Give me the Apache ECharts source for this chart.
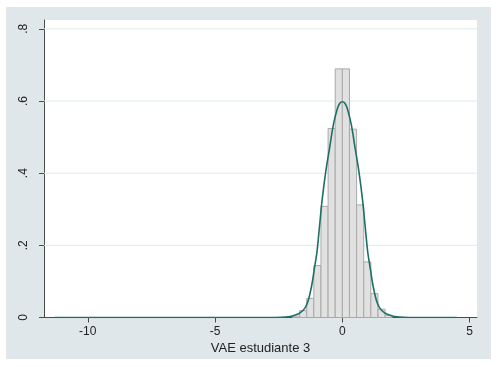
<!DOCTYPE html>
<html>
<head>
<meta charset="utf-8">
<script src="https://cdn.jsdelivr.net/npm/echarts@6/dist/echarts.min.js"></script>
<style>
html,body{margin:0;padding:0;background:#ffffff;}
#chart{width:500px;height:367px;}
</style>
</head>
<body>
<div id="chart"></div>
<script>
// Histogram bins (left edge, right edge) and densities
var binLeft  = [-1.96, -1.68, -1.40, -1.12, -0.84, -0.56, -0.28, 0.00, 0.28, 0.56, 0.84, 1.12, 1.40, 1.68];
var binRight = [-1.68, -1.40, -1.12, -0.84, -0.56, -0.28, 0.00, 0.28, 0.56, 0.84, 1.12, 1.40, 1.68, 1.96];
var density  = [0.004, 0.019, 0.053, 0.144, 0.308, 0.524, 0.689, 0.689, 0.522, 0.312, 0.154, 0.066, 0.023, 0.006];

// Normal density overlay
var curveX = [-11.3, -8, -5, -3, -2.4, -2.05, -1.85, -1.66, -1.47, -1.34, -1.2, -1.1, -1.0, -0.9, -0.8, -0.65, -0.5, -0.35, -0.2, -0.1, 0,
              0.1, 0.2, 0.35, 0.5, 0.65, 0.8, 0.9, 1.0, 1.1, 1.2, 1.34, 1.47, 1.66, 1.85, 2.05, 2.4, 3, 4.5];
var curveY = [0, 0, 0, 0, 0.0005, 0.003, 0.007, 0.013, 0.026, 0.047, 0.09, 0.135, 0.18, 0.25, 0.322, 0.405, 0.47, 0.535, 0.578, 0.594, 0.598,
              0.594, 0.578, 0.535, 0.47, 0.405, 0.322, 0.25, 0.18, 0.135, 0.09, 0.047, 0.026, 0.013, 0.007, 0.003, 0.0005, 0, 0];

var xTicks = [-10, -5, 0, 5];
var yTicks = [0, 0.2, 0.4, 0.6, 0.8];
var yTickLabels = ['0', '.2', '.4', '.6', '.8'];
var xTitle = 'VAE estudiante 3';

var histData = binLeft.map(function (l, i) { return [l, binRight[i], density[i]]; });
var curveData = curveX.map(function (x, i) { return [x, curveY[i]]; });

var chart = echarts.init(document.getElementById('chart'), null, {renderer: 'canvas'});
var font = 'Liberation Sans, Arial, sans-serif';
var axisCol = '#4a4a4a';

chart.setOption({
  backgroundColor: '#ffffff',
  animation: false,
  graphic: [{
    type: 'rect', z: -10, silent: true,
    shape: {x: 6, y: 7, width: 485, height: 352},
    style: {fill: '#dfe7ea'}
  }],
  grid: {
    left: 44, right: 23, top: 20, bottom: 49.5,
    show: true, backgroundColor: '#ffffff', borderWidth: 0
  },
  xAxis: {
    type: 'value', min: -11.72, max: 5.29,
    name: xTitle, nameLocation: 'middle', nameGap: 23,
    nameTextStyle: {fontFamily: font, fontSize: 13, color: '#222'},
    axisLine: {show: true, onZero: false, lineStyle: {color: axisCol, width: 1}},
    axisTick: {show: true, length: 5, lineStyle: {color: axisCol}, customValues: xTicks},
    axisLabel: {fontFamily: font, fontSize: 12, color: '#222', margin: 8, customValues: xTicks,
      formatter: function (v) { return String(v); }},
    splitLine: {show: false}
  },
  yAxis: {
    type: 'value', min: 0, max: 0.8245,
    axisLine: {show: true, onZero: false, lineStyle: {color: axisCol, width: 1}},
    axisTick: {show: true, length: 5, lineStyle: {color: axisCol}, customValues: yTicks},
    axisLabel: {fontFamily: font, fontSize: 12, color: '#222', rotate: 90, margin: 14, customValues: yTicks,
      formatter: function (v) { var i = yTicks.indexOf(Math.round(v * 10) / 10); return i >= 0 ? yTickLabels[i] : ''; }},
    splitLine: {show: false}
  },
  series: [
    {
      type: 'custom',
      silent: true,
      data: yTicks.slice(1).map(function (v) { return [v]; }),
      renderItem: function (params, api) {
        var y = api.coord([-11.72, api.value(0)])[1];
        var cs = params.coordSys;
        return {type: 'line', shape: {x1: cs.x, y1: y, x2: cs.x + cs.width, y2: y},
          style: {stroke: '#dcebea', lineWidth: 1}};
      },
      z: 1
    },
    {
      type: 'custom',
      data: histData,
      encode: {x: [0, 1], y: 2},
      renderItem: function (params, api) {
        var p0 = api.coord([api.value(0), api.value(2)]);
        var p1 = api.coord([api.value(1), 0]);
        return {type: 'rect',
          shape: {x: p0[0], y: p0[1], width: p1[0] - p0[0], height: p1[1] - p0[1]},
          style: {fill: '#e1e1e1', stroke: '#a9a9a9', lineWidth: 1}};
      },
      z: 2
    },
    {
      type: 'line',
      data: curveData,
      smooth: 0.35,
      showSymbol: false,
      lineStyle: {color: '#1f6f66', width: 1.6},
      z: 3
    }
  ]
});
</script>
</body>
</html>
